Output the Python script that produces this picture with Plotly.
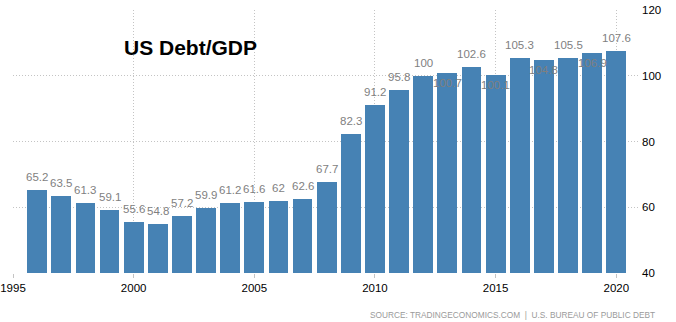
import plotly.graph_objects as go

# US federal debt as a share of GDP, by year
years = list(range(1996, 2021))
debt_to_gdp = [65.2, 63.5, 61.3, 59.1, 55.6, 54.8, 57.2, 59.9, 61.2, 61.6,
               62, 62.6, 67.7, 82.3, 91.2, 95.8, 100, 100.7, 102.6, 100.1,
               105.3, 104.8, 105.5, 106.9, 107.6]
x_ticks = [1995, 2000, 2005, 2010, 2015, 2020]
y_ticks = [40, 60, 80, 100, 120]

W, H = 676, 322
M = dict(l=13, r=38, t=10, b=49)
X_RANGE = [1995, 2020.9]
Y_RANGE = [40, 120]

BAR_COLOR = "#4682B4"
GRID = "#c4c4c4"
GRID_DASH = "1px,2px"
LABEL_COLOR = "#7f7f7f"
FONT = "Liberation Sans, Arial, sans-serif"


def fmt(v):
    return f"{v:g}"


# pixel scales used only to decide whether a value label would collide
# with its left neighbour; colliding labels are tucked inside the bar top
px_per_year = (W - M["l"] - M["r"]) / (X_RANGE[1] - X_RANGE[0])
px_per_unit = (H - M["t"] - M["b"]) / (Y_RANGE[1] - Y_RANGE[0])


def text_width(s):
    return sum(3.0 if ch == "." else 5.8 for ch in s)


UP, DOWN = 13, -10
shifts = []
prev = None
for yr, v in zip(years, debt_to_gdp):
    txt = fmt(v)
    shift = UP
    if prev is not None and prev[3] == UP:
        pyr, pv, ptxt, _ = prev
        gap = (yr - pyr) * px_per_year - (text_width(ptxt) + text_width(txt)) / 2
        dy = abs((v - pv) * px_per_unit)
        if gap < 3 and dy < 11:
            shift = DOWN
    shifts.append(shift)
    prev = (yr, v, txt, shift)

fig = go.Figure(
    go.Bar(
        x=years,
        y=debt_to_gdp,
        width=0.82,
        marker=dict(color=BAR_COLOR, line=dict(width=0)),
        hoverinfo="x+y",
    )
)

annotations = [
    dict(
        x=yr, y=v, xref="x", yref="y", text=fmt(v), showarrow=False,
        yshift=s, xanchor="center", yanchor="middle",
        font=dict(family=FONT, size=11.5, color=LABEL_COLOR),
    )
    for yr, v, s in zip(years, debt_to_gdp, shifts)
]

annotations.append(dict(
    x=(122 - M["l"]) / (W - M["l"] - M["r"]), y=(273 - 47.5) / (H - M["t"] - M["b"]),
    xref="paper", yref="paper", text="<b>US Debt/GDP</b>", showarrow=False,
    xanchor="left", yanchor="middle",
    font=dict(family=FONT, size=21, color="#000000"),
))

annotations.append(dict(
    x=(657 - M["l"]) / (W - M["l"] - M["r"]), y=(273 - 315) / (H - M["t"] - M["b"]),
    xref="paper", yref="paper",
    text="SOURCE: TRADINGECONOMICS.COM  |  U.S. BUREAU OF PUBLIC DEBT",
    showarrow=False, xanchor="right", yanchor="middle",
    font=dict(family=FONT, size=8.3, color="#9a9a9a"),
))

fig.update_layout(
    width=W, height=H,
    margin=dict(**M, pad=0, autoexpand=False),
    paper_bgcolor="white", plot_bgcolor="white",
    showlegend=False,
    bargap=0,
    annotations=annotations,
    font=dict(family=FONT, size=11.5, color="#000000"),
    xaxis=dict(
        range=X_RANGE, tickvals=x_ticks, ticktext=[str(t) for t in x_ticks],
        showgrid=True, gridcolor=GRID, griddash=GRID_DASH, gridwidth=1,
        ticks="outside", ticklen=4, tickcolor=GRID, tickwidth=1,
        showline=False, zeroline=False, automargin=False,
        tickfont=dict(family=FONT, size=11.5, color="#000000"),
    ),
    yaxis=dict(
        range=Y_RANGE, tickvals=y_ticks, side="right",
        showgrid=True, gridcolor=GRID, griddash=GRID_DASH, gridwidth=1,
        ticks="", showline=False, zeroline=False, automargin=False,
        ticklabelstandoff=3,
        tickfont=dict(family=FONT, size=11.5, color="#000000"),
    ),
)

fig.write_html("out.html")
